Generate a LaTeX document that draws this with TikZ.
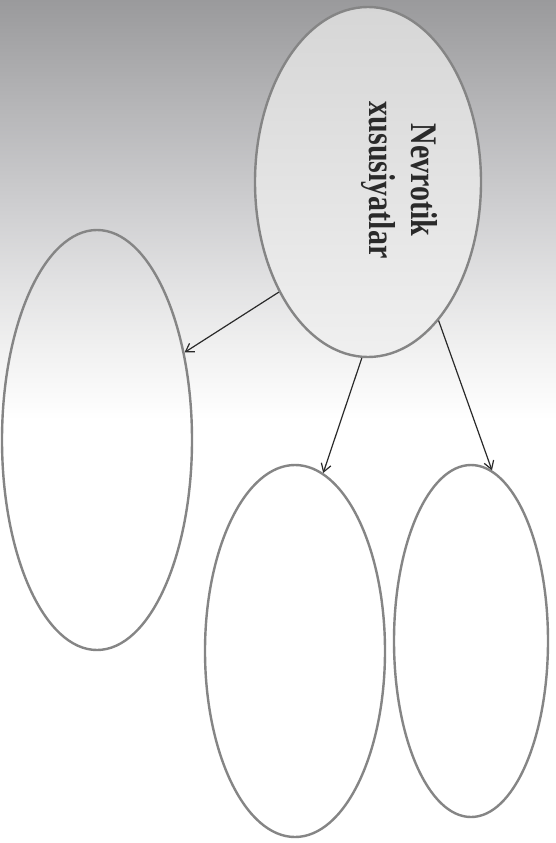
\documentclass[tikz,border=0pt]{standalone}
\usepackage{fontspec}
\setmainfont{Liberation Serif}
\usetikzlibrary{shapes.geometric,arrows.meta}
\definecolor{bgA}{HTML}{9A9A9C}
\definecolor{bgB}{HTML}{B4B4B6}
\definecolor{bgC}{HTML}{CDCDCF}
\definecolor{bgD}{HTML}{E1E1E2}
\definecolor{bgE}{HTML}{F1F1F1}
\definecolor{rim}{HTML}{858585}
\definecolor{ink}{HTML}{2A2A2A}
\tikzset{
  oval/.style={ellipse, draw=rim, line width=2.4pt, inner sep=0pt},
  link/.style={draw=ink, line width=1.2pt, -{Straight Barb[length=8pt,width=10pt,line width=1.2pt]}}
}
\begin{document}
\begin{tikzpicture}[x=1pt,y=-1pt]
\useasboundingbox (0,0) rectangle (556,843);
% background
\fill[white] (0,0) rectangle (556,843);
\shade[top color=bgA, bottom color=bgB] (0,0) rectangle (556,100);
\shade[top color=bgB, bottom color=bgC] (0,100) rectangle (556,200);
\shade[top color=bgC, bottom color=bgD] (0,200) rectangle (556,280);
\shade[top color=bgD, bottom color=bgE] (0,280) rectangle (556,350);
\shade[top color=bgE, bottom color=white] (0,350) rectangle (556,420);
% ellipses
\node[oval, top color=black!16, bottom color=black!6, minimum width=226pt, minimum height=350pt] (main) at (368,182) {};
\node[oval, minimum width=190pt, minimum height=420pt] (left) at (97,440) {};
\node[oval, minimum width=180pt, minimum height=372pt] (mid) at (295,651) {};
\node[oval, minimum width=154pt, minimum height=352pt] (right) at (471,641) {};
% text
\node[rotate=-90, text=ink, inner sep=0pt] (title) at (399,180)
  {\scalebox{1}[1.25]{\fontsize{30}{34}\selectfont\bfseries\begin{tabular}{@{}c@{}}Nevrotik\\xususiyatlar\end{tabular}}};
% arrows
\draw[link] (main.231) -- (left.45);
\draw[link] (main.268) -- (mid.81);
\draw[link] (main.297) -- (right.83);
\end{tikzpicture}
\end{document}
